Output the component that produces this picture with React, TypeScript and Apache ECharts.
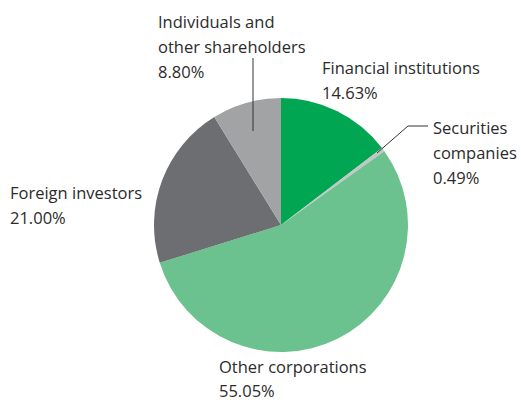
import React, { useEffect, useRef } from "react";
import * as echarts from "echarts";

const categories = [
  "Financial institutions",
  "Securities\ncompanies",
  "Other corporations",
  "Foreign investors",
  "Individuals and\nother shareholders",
];
const shares = [14.63, 0.49, 55.05, 21.0, 8.8];
const colors = ["#00a651", "#c4c5c7", "#6cc28f", "#6d6e71", "#a2a3a5"];

// label anchor (left, top) per slice
const labelPos: [number, number][] = [
  [322, 55],
  [433, 115],
  [219, 351],
  [10, 180],
  [158, 9],
];

export default function App() {
  const ref = useRef<HTMLDivElement>(null);
  useEffect(() => {
    if (!ref.current) return;
    const chart = echarts.init(ref.current, undefined, { renderer: "svg" });
    const textBase = {
      fontFamily: "Open Sans",
      fontSize: 16.5,
      color: "#2b2b2b",
    };
    chart.setOption({
      animation: false,
      backgroundColor: "#ffffff",
      series: [
        {
          type: "pie",
          center: [281, 225],
          radius: [0, 127],
          startAngle: 90,
          clockwise: true,
          data: categories.map((c, i) => ({
            name: c,
            value: shares[i],
            itemStyle: { color: colors[i] },
            label:
              i === 2
                ? {
                    formatter: (p: any) =>
                      `{a|${p.name}}\n{b|${p.value.toFixed(2)}%}`,
                    rich: {
                      a: { ...textBase, lineHeight: 30 },
                      b: { ...textBase, lineHeight: 18 },
                    },
                  }
                : undefined,
          })),
          label: {
            show: true,
            formatter: (p: any) => `${p.name}\n${p.value.toFixed(2)}%`,
            ...textBase,
            lineHeight: 25,
            align: "left",
            overflow: "none",
            width: 300,
          },
          labelLine: { show: false },
          labelLayout: (p: any) => ({
            x: labelPos[p.dataIndex][0],
            y: labelPos[p.dataIndex][1],
            align: "left",
            verticalAlign: "top",
          }),
        },
      ],
      graphic: [
        {
          type: "line",
          shape: { x1: 253, y1: 58, x2: 253, y2: 131 },
          style: { stroke: "#333333", lineWidth: 1 },
          z: 10,
        },
        {
          type: "polyline",
          shape: { points: [[428, 126], [408, 126], [377, 153]] },
          style: { stroke: "#333333", lineWidth: 1, fill: null },
          z: 10,
        },
      ],
    });
    return () => chart.dispose();
  }, []);
  return (
    <div
      ref={ref}
      style={{ position: "fixed", left: 0, top: 0, width: 521, height: 404 }}
    />
  );
}
